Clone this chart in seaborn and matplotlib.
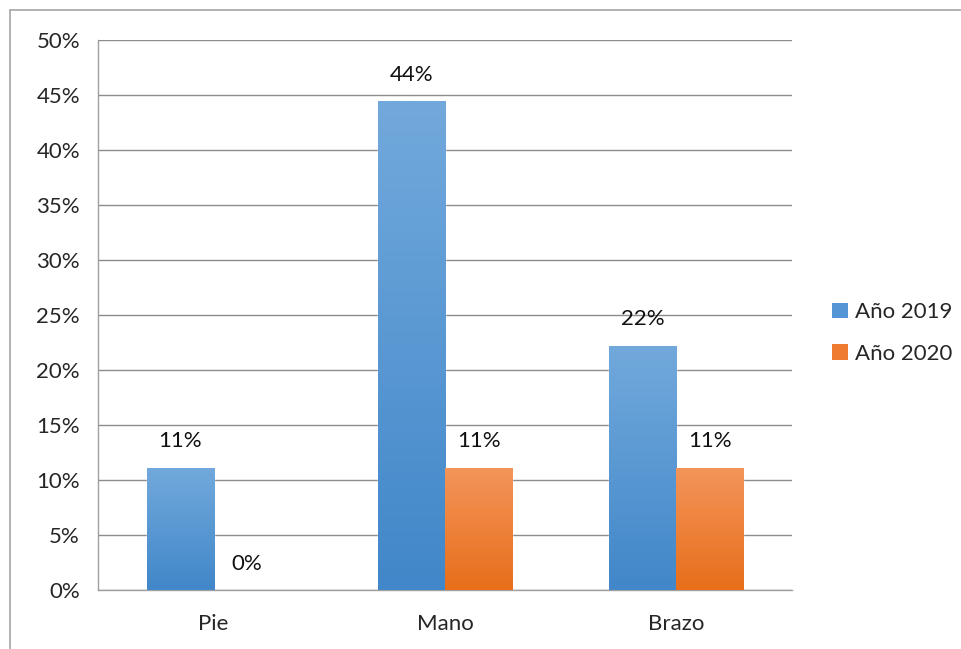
import numpy as np
import pandas as pd
import matplotlib
matplotlib.use('Agg')
import matplotlib.pyplot as plt
import seaborn as sns
from matplotlib.patches import Patch
from matplotlib.lines import Line2D
from matplotlib.colors import LinearSegmentedColormap

# data
categories = ['Pie', 'Mano', 'Brazo']
series = ['Año 2019', 'Año 2020']
values_2019 = [11.11, 44.44, 22.22]
values_2020 = [0.0, 11.11, 11.11]
labels_2019 = ['11%', '44%', '22%']
labels_2020 = ['0%', '11%', '11%']

df = pd.DataFrame({
    'Parte': categories * 2,
    'Serie': [series[0]] * 3 + [series[1]] * 3,
    'Valor': values_2019 + values_2020,
})

colors = {'Año 2019': ('#72a9dc', '#4187c9'), 'Año 2020': ('#f3955a', '#e86e1a')}
legend_colors = {'Año 2019': '#5595d5', 'Año 2020': '#ee7b30'}

sns.set_style('white')
plt.rcParams['font.family'] = ['Lato', 'DejaVu Sans']
fs = 16

fig = plt.figure(figsize=(9.61, 6.49), dpi=100)
ax = fig.add_axes([98 / 961, 1 - 590 / 649, 694 / 961, 550 / 649])

sns.barplot(data=df, x='Parte', y='Valor', hue='Serie', hue_order=series,
            order=categories, width=0.58, gap=0, ax=ax, legend=False,
            palette=legend_colors, saturation=1)

ax.set_xlim(-0.5, 2.5)
ax.set_ylim(0, 50)

# gradient fill on each bar
for i, cont in enumerate(ax.containers):
    top, bottom = colors[series[i]]
    cmap = LinearSegmentedColormap.from_list('g', [bottom, top])
    for bar in cont:
        h = bar.get_height()
        if h <= 0:
            bar.set_visible(False)
            continue
        x0 = bar.get_x()
        w = bar.get_width()
        grad = np.linspace(0, 1, 256).reshape(-1, 1)
        im = ax.imshow(grad, cmap=cmap, origin='lower', aspect='auto',
                       extent=[x0, x0 + w, 0, h], zorder=3)
        im.set_clip_path(bar)
        bar.set_zorder(2)

# value labels
for i, (cont, labs) in enumerate(zip(ax.containers, [labels_2019, labels_2020])):
    for bar, lab in zip(cont, labs):
        ax.annotate(lab, (bar.get_x() + bar.get_width() / 2, bar.get_height()),
                    xytext=(0, 19), textcoords='offset points',
                    ha='center', va='center', fontsize=fs, color='#111111')

ax.set_yticks(np.arange(0, 51, 5))
ax.set_yticklabels([f'{v}%' for v in range(0, 51, 5)])
ax.yaxis.grid(True, color='#8c8c8c', linewidth=1)
ax.set_axisbelow(True)
ax.set_xticks([0, 1, 2])
ax.set_xticklabels(categories)
ax.set_xlabel('')
ax.set_ylabel('')

# category boundary tick marks on x axis
ax.set_xticks([-0.5, 0.5, 1.5, 2.5], minor=True)
ax.tick_params(axis='x', which='major', length=0, pad=17, labelsize=fs)
ax.tick_params(axis='x', which='minor', length=7, color='#a0a0a0', width=1, direction='out')
ax.tick_params(axis='y', length=7, color='#8c8c8c', width=1, direction='out', labelsize=fs, pad=6)

for s in ['top', 'right']:
    ax.spines[s].set_visible(False)
ax.spines['left'].set_color('#a0a0a0')
ax.spines['bottom'].set_color('#a0a0a0')
ax.spines['left'].set_linewidth(1)
ax.spines['bottom'].set_linewidth(1)

handles = [Patch(facecolor=legend_colors[s], edgecolor='none') for s in series]
fig.legend(handles, series, loc='center left', bbox_to_anchor=(832 / 961, 1 - 333 / 649),
           frameon=False, fontsize=fs, handlelength=0.7, handleheight=0.7,
           handletextpad=0.35, labelspacing=0.95, borderpad=0, borderaxespad=0)

# outer chart border (top and left visible)
fig.add_artist(Line2D([10 / 961, 1], [1 - 10 / 649, 1 - 10 / 649], color='#a6a6a6', linewidth=1.2))
fig.add_artist(Line2D([10 / 961, 10 / 961], [0, 1 - 10 / 649], color='#a6a6a6', linewidth=1.2))

fig.savefig('out.png', dpi=100)
